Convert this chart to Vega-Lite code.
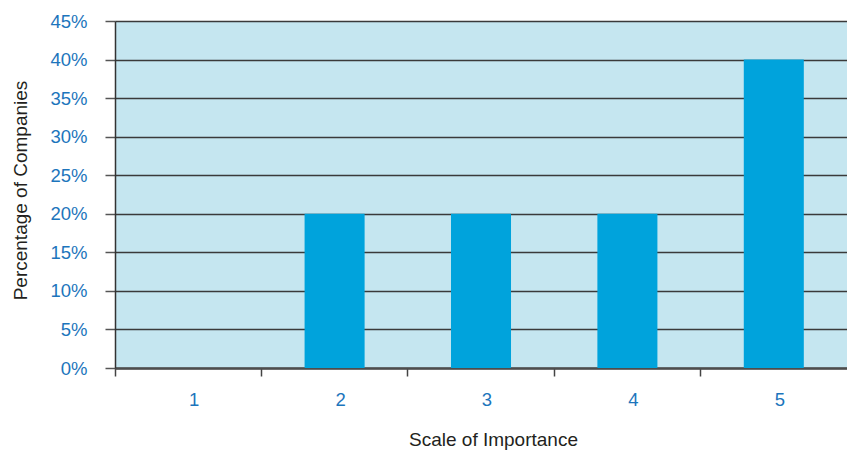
{
  "$schema": "https://vega.github.io/schema/vega-lite/v6.json",
  "width": 732,
  "height": 347,
  "autosize": {"type": "none"},
  "padding": {"left": 115, "top": 21, "right": 0, "bottom": 82},
  "background": "white",
  "view": {"fill": "#c5e6f0", "stroke": null},
  "config": {"font": "Liberation Sans"},
  "data": {"values": [
    {"scale": "1", "pct": 0},
    {"scale": "2", "pct": 0.2},
    {"scale": "3", "pct": 0.2},
    {"scale": "4", "pct": 0.2},
    {"scale": "5", "pct": 0.4}
  ]},
  "mark": {"type": "bar", "color": "#00a3dc", "width": {"band": 0.41}},
  "encoding": {
    "x": {
      "field": "scale", "type": "ordinal",
      "scale": {"paddingInner": 0, "paddingOuter": 0},
      "axis": {
        "title": "Scale of Importance", "titleFontSize": 19, "titleFontWeight": "normal", "titleColor": "#231f20", "titlePadding": 22,
        "titleX": 378, "titleAlign": "center",
        "labelAngle": 0, "labelFontSize": 18.5, "labelColor": "#1c75bc", "labelPadding": 14, "labelOffset": 6,
        "bandPosition": 0, "tickSize": 8, "tickColor": "#444444", "tickWidth": 1.5,
        "domainColor": "#4d4d4d", "domainWidth": 2.5, "grid": false
      }
    },
    "y": {
      "field": "pct", "type": "quantitative",
      "scale": {"domain": [0, 0.45], "nice": false},
      "axis": {
        "title": "Percentage of Companies", "titleFontSize": 19, "titleFontWeight": "normal", "titleColor": "#231f20", "titlePadding": 19,
        "titleY": 169,
        "values": [0, 0.05, 0.1, 0.15, 0.2, 0.25, 0.3, 0.35, 0.4, 0.45],
        "format": ".0%", "labelFontSize": 18.5, "labelColor": "#1c75bc", "labelPadding": 18,
        "tickSize": 10, "tickColor": "#555555", "tickWidth": 1.5,
        "domainColor": "#333333", "domainWidth": 1.5,
        "grid": true, "gridColor": "#3a3a3a", "gridWidth": 1.5
      }
    }
  }
}
